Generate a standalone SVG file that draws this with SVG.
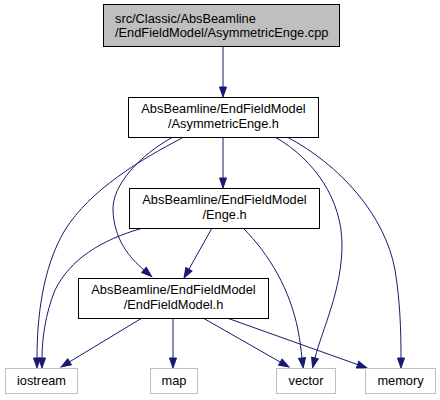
<svg xmlns="http://www.w3.org/2000/svg" width="440" height="400" viewBox="0 0 440 400">
<defs>
<marker id="ah" markerUnits="userSpaceOnUse" markerWidth="12" markerHeight="10" refX="0" refY="0" viewBox="0 -5 12 10" orient="auto" overflow="visible">
<path d="M0,-3.5 L10,0 L0,3.5 z" fill="#191970" stroke="#191970" stroke-width="1"/>
</marker>
</defs>
<style>
.e{fill:none;stroke:#191970;stroke-width:1;marker-end:url(#ah)}
.n{fill:#ffffff;stroke:#000000;stroke-width:1}
.g{fill:#bfbfbf;stroke:#000000;stroke-width:1}
.l{fill:#ffffff;stroke:#bfbfbf;stroke-width:1}
text{font-family:"Liberation Sans",Arial,Helvetica,sans-serif;font-size:12.8px;fill:#000000}
.c{text-anchor:middle}
</style>
<rect width="440" height="400" fill="#ffffff"/>
<g id="edges">
<path class="e" d="M223,47 L223,87"/>
<path class="e" d="M223,137 L223,178"/>
<path class="e" d="M182,138 C140,160 90,190 65,230 C42,268 37,320 37,358"/>
<path class="e" d="M173,137 C140,155 112,185 113,210 C114,240 130,258 144,270"/>
<path class="e" d="M275,137 C315,160 342,200 342,245 C342,290 322,330 315,358"/>
<path class="e" d="M287,137 C340,165 385,215 395,270 C400,300 401,330 401,358"/>
<path class="e" d="M143,228 C100,240 70,260 55,290 C45,315 42,340 42,358"/>
<path class="e" d="M212,228 L188.9,269.3"/>
<path class="e" d="M243,228 C270,255 290,290 298,330 C300,340 301,350 302,358"/>
<path class="e" d="M142,318 L69.6,361.8"/>
<path class="e" d="M173,318 L173,358"/>
<path class="e" d="M203,318 L280.3,362.1"/>
<path class="e" d="M227,318 L357.6,364.6"/>
</g>
<g id="node1">
<rect class="g" x="103.5" y="4.5" width="236" height="42"/>
<text x="115" y="23">src/Classic/AbsBeamline</text>
<text x="115" y="37">/EndFieldModel/AsymmetricEnge.cpp</text>
</g>
<g id="node2">
<rect class="n" x="128.5" y="97.5" width="190" height="40"/>
<text class="c" x="223.5" y="113">AbsBeamline/EndFieldModel</text>
<text class="c" x="223.5" y="128">/AsymmetricEnge.h</text>
</g>
<g id="node3">
<rect class="n" x="129.5" y="188.5" width="190" height="40"/>
<text class="c" x="224.5" y="204">AbsBeamline/EndFieldModel</text>
<text class="c" x="224.5" y="219">/Enge.h</text>
</g>
<g id="node4">
<rect class="n" x="78.5" y="278.5" width="190" height="40"/>
<text class="c" x="173.5" y="294">AbsBeamline/EndFieldModel</text>
<text class="c" x="173.5" y="309">/EndFieldModel.h</text>
</g>
<g id="node5">
<rect class="l" x="5.5" y="368.5" width="72" height="25"/>
<text class="c" x="41.5" y="385">iostream</text>
</g>
<g id="node6">
<rect class="l" x="150.5" y="368.5" width="47" height="25"/>
<text class="c" x="174" y="385">map</text>
</g>
<g id="node7">
<rect class="l" x="276.5" y="368.5" width="59" height="25"/>
<text class="c" x="306" y="385">vector</text>
</g>
<g id="node8">
<rect class="l" x="365.5" y="368.5" width="70" height="25"/>
<text class="c" x="400.5" y="385">memory</text>
</g>
</svg>
